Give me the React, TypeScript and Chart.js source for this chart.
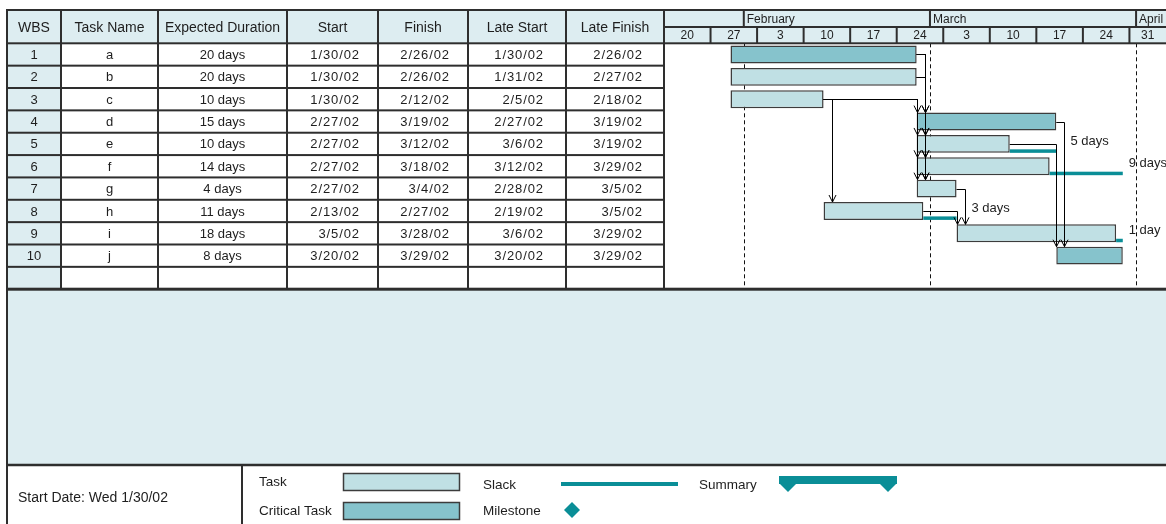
import React, { useEffect, useRef } from 'react';
import { Chart, registerables } from 'chart.js';

Chart.register(...registerables);

// ---------- data ----------
const WBS = ['1', '2', '3', '4', '5', '6', '7', '8', '9', '10'];
const TASK_NAMES = ['a', 'b', 'c', 'd', 'e', 'f', 'g', 'h', 'i', 'j'];
const DURATIONS = ['20 days', '20 days', '10 days', '15 days', '10 days', '14 days', '4 days', '11 days', '18 days', '8 days'];
const STARTS = ['1/30/02', '1/30/02', '1/30/02', '2/27/02', '2/27/02', '2/27/02', '2/27/02', '2/13/02', '3/5/02', '3/20/02'];
const FINISHES = ['2/26/02', '2/26/02', '2/12/02', '3/19/02', '3/12/02', '3/18/02', '3/4/02', '2/27/02', '3/28/02', '3/29/02'];
const LATE_STARTS = ['1/30/02', '1/31/02', '2/5/02', '2/27/02', '3/6/02', '3/12/02', '2/28/02', '2/19/02', '3/6/02', '3/20/02'];
const LATE_FINISHES = ['2/26/02', '2/27/02', '2/18/02', '3/19/02', '3/19/02', '3/29/02', '3/5/02', '3/5/02', '3/29/02', '3/29/02'];
const CRITICAL = [true, false, false, true, false, false, false, false, false, true];
const PREDECESSORS: string[][] = [[], [], [], ['a', 'b', 'c'], ['a', 'b', 'c'], ['a', 'b', 'c'], ['a', 'b', 'c'], ['c'], ['g', 'h'], ['d', 'e']];
const SLACK_END: (string | null)[] = [null, null, null, null, '3/19/02', '3/29/02', null, '3/4/02', '3/29/02', null];
const SLACK_LABELS: (string | null)[] = [null, null, null, null, '5 days', '9 days', null, '3 days', '1 day', null];
const HEADERS = ['WBS', 'Task Name', 'Expected Duration', 'Start', 'Finish', 'Late Start', 'Late Finish'];
const TIMELINE_START = '1/20/02';
const VIEW_DAYS = 75.5;
const WEEK_LABELS = ['20', '27', '3', '10', '17', '24', '3', '10', '17', '24', '31'];
const MONTH_LABELS = ['February', 'March', 'April'];
const MONTH_STARTS = ['2/1/02', '3/1/02', '4/1/02'];
const START_DATE_TEXT = 'Start Date: Wed 1/30/02';
const LEGEND_LABELS = ['Task', 'Critical Task', 'Slack', 'Milestone', 'Summary'];

// ---------- styling / layout ----------
const W = 1166;
const H = 524;
const COLS = [7, 61, 158, 287, 378, 468, 566, 664];
const ALIGN = ['center', 'center', 'center', 'right', 'right', 'right', 'right'];
const RIGHT_PAD = [0, 0, 0, 19, 19, 23, 22];
const TOP = 10;
const MONTH_ROW_BOTTOM = 27;
const AREA_TOP = 43.3;
const AREA_BOTTOM = 289.2;
const LEGEND_TOP = 465;
const DIVIDER_X = 242;
const FONT = "'Liberation Sans', Arial, sans-serif";
const HEAD_FILL = '#DDEDF1';
const TASK_FILL = '#C0E0E4';
const CRIT_FILL = '#86C3CC';
const TEAL = '#0A8E97';
const LINE = '#2E2E2E';
const TEXT = '#1E1E1E';
const BAR_BORDER = '#3C3C3C';

function parseDate(s: string) {
  const [m, d, y] = s.split('/').map(Number);
  return Date.UTC(2000 + y, m - 1, d);
}
const T0 = parseDate(TIMELINE_START);
function dayOf(s: string) {
  return (parseDate(s) - T0) / 86400000;
}

const BARS: ([number, number] | null)[] = [
  ...STARTS.map((s, i) => [dayOf(s), dayOf(FINISHES[i]) + 1] as [number, number]),
  null,
];
const BAR_COLORS = [...CRITICAL.map((c) => (c ? CRIT_FILL : TASK_FILL)), TASK_FILL];
const COLUMNS = [WBS, TASK_NAMES, DURATIONS, STARTS, FINISHES, LATE_STARTS, LATE_FINISHES];

function hLine(ctx: CanvasRenderingContext2D, x1: number, x2: number, y: number, w = 2) {
  ctx.fillRect(x1, y - w / 2, x2 - x1, w);
}
function vLine(ctx: CanvasRenderingContext2D, x: number, y1: number, y2: number, w = 2) {
  ctx.fillRect(x - w / 2, y1, w, y2 - y1);
}

const ganttPlugin = {
  id: 'ganttDecor',
  beforeDatasetsDraw(chart: any) {
    const ctx: CanvasRenderingContext2D = chart.ctx;
    const { x } = chart.scales;
    const area = chart.chartArea;
    ctx.save();
    ctx.fillStyle = '#ffffff';
    ctx.fillRect(0, 0, W, H);
    // fills
    ctx.fillStyle = HEAD_FILL;
    ctx.fillRect(COLS[0], TOP, W - COLS[0], area.top - TOP);
    ctx.fillRect(COLS[0], area.top, COLS[1] - COLS[0], area.bottom - area.top);
    ctx.fillRect(COLS[0], area.bottom, W - COLS[0], LEGEND_TOP - area.bottom);

    // dashed month lines
    ctx.strokeStyle = '#111';
    ctx.lineWidth = 1;
    ctx.setLineDash([4, 3]);
    MONTH_STARTS.forEach((m) => {
      const px = Math.round(x.getPixelForValue(dayOf(m))) + 0.5;
      ctx.beginPath();
      ctx.moveTo(px, area.top);
      ctx.lineTo(px, area.bottom);
      ctx.stroke();
    });
    ctx.setLineDash([]);
    ctx.restore();
  },
  afterDatasetsDraw(chart: any) {
    const ctx: CanvasRenderingContext2D = chart.ctx;
    const { x, y } = chart.scales;
    const meta = chart.getDatasetMeta(0);
    const barH = meta.data[0].height;
    ctx.save();

    // slack lines
    ctx.fillStyle = TEAL;
    SLACK_END.forEach((se, i) => {
      if (!se) return;
      const x1 = x.getPixelForValue(dayOf(FINISHES[i]) + 1);
      const x2 = x.getPixelForValue(dayOf(se) + 1);
      const bottom = y.getPixelForValue(i) + barH / 2;
      ctx.fillRect(x1, bottom - 3.5, x2 - x1, 3.5);
    });

    // connectors
    const verticals: { x: number; y1: number; y2: number }[] = [];
    ctx.strokeStyle = '#000';
    ctx.lineWidth = 1;
    PREDECESSORS.forEach((preds, i) => {
      preds.forEach((pn) => {
        const p = TASK_NAMES.indexOf(pn);
        const pEnd = x.getPixelForValue(dayOf(FINISHES[p]) + 1);
        const sStart = x.getPixelForValue(dayOf(STARTS[i]));
        const py = Math.round(y.getPixelForValue(p)) + 0.5;
        const top = y.getPixelForValue(i) - barH / 2;
        const vx = Math.round(pEnd >= sStart - 1 ? pEnd + 8 : sStart) + 0.5;
        ctx.beginPath();
        ctx.moveTo(pEnd, py);
        ctx.lineTo(vx, py);
        ctx.lineTo(vx, top);
        ctx.stroke();
        ctx.beginPath();
        ctx.moveTo(vx - 3.5, top - 7);
        ctx.lineTo(vx, top);
        ctx.lineTo(vx + 3.5, top - 7);
        ctx.stroke();
        verticals.push({ x: vx, y1: py, y2: top });
      });
    });

    // slack labels
    ctx.fillStyle = TEXT;
    ctx.font = `13px ${FONT}`;
    ctx.textAlign = 'left';
    ctx.textBaseline = 'middle';
    SLACK_LABELS.forEach((lab, i) => {
      if (!lab || !SLACK_END[i]) return;
      const se = x.getPixelForValue(dayOf(SLACK_END[i] as string) + 1);
      const ly = y.getPixelForValue(i) - 2.5;
      let lx = se;
      verticals.forEach((v) => {
        if (v.x >= se - 1 && v.x <= se + 20 && v.y1 <= ly + 4 && v.y2 >= ly) lx = Math.max(lx, v.x);
      });
      ctx.fillText(lab, lx + 6, ly);
    });
    ctx.restore();
  },
  afterDraw(chart: any) {
    const ctx: CanvasRenderingContext2D = chart.ctx;
    const { x, y } = chart.scales;
    const area = chart.chartArea;
    const rows = chart.data.labels.length;
    const rowH = (area.bottom - area.top) / rows;
    ctx.save();

    // ---- table text ----
    ctx.fillStyle = TEXT;
    ctx.textBaseline = 'middle';
    ctx.font = `14px ${FONT}`;
    ctx.textAlign = 'center';
    HEADERS.forEach((h, c) => {
      ctx.fillText(h, (COLS[c] + COLS[c + 1]) / 2, (TOP + area.top) / 2 + 1);
    });
    ctx.font = `13px ${FONT}`;
    COLUMNS.forEach((col, c) => {
      col.forEach((txt, i) => {
        const cy = y.getPixelForValue(i) + 1;
        if (ALIGN[c] === 'center') {
          (ctx as any).letterSpacing = '0px';
          ctx.textAlign = 'center';
          ctx.fillText(txt, (COLS[c] + COLS[c + 1]) / 2, cy);
        } else {
          (ctx as any).letterSpacing = '0.9px';
          ctx.textAlign = 'right';
          ctx.fillText(txt, COLS[c + 1] - RIGHT_PAD[c] + 1, cy);
        }
      });
    });
    (ctx as any).letterSpacing = '0px';

    // ---- timeline header text ----
    ctx.font = `12px ${FONT}`;
    ctx.textAlign = 'left';
    MONTH_LABELS.forEach((m, k) => {
      const px = x.getPixelForValue(dayOf(MONTH_STARTS[k]));
      ctx.fillText(m, px + 3, (TOP + MONTH_ROW_BOTTOM) / 2 + 1);
    });
    ctx.textAlign = 'center';
    WEEK_LABELS.forEach((w, k) => {
      const x1 = x.getPixelForValue(k * 7);
      const x2 = Math.min(area.right, x.getPixelForValue(k * 7 + 7));
      ctx.fillText(w, (x1 + x2) / 2, (MONTH_ROW_BOTTOM + area.top) / 2 + 1);
    });

    // ---- grid lines ----
    ctx.fillStyle = LINE;
    hLine(ctx, COLS[0] - 1, W, TOP);
    hLine(ctx, COLS[0] - 1, W, area.top);
    for (let i = 1; i < rows; i++) hLine(ctx, COLS[0], COLS[7], area.top + i * rowH);
    hLine(ctx, COLS[0] - 1, W, area.bottom, 3);
    hLine(ctx, COLS[0] - 1, W, LEGEND_TOP, 2.5);
    hLine(ctx, COLS[7], W, MONTH_ROW_BOTTOM);
    COLS.forEach((cx, c) => {
      if (c === 0) vLine(ctx, cx, TOP - 1, H);
      else vLine(ctx, cx, TOP, area.bottom);
    });
    MONTH_STARTS.forEach((m) => {
      const px = x.getPixelForValue(dayOf(m));
      vLine(ctx, px, TOP, MONTH_ROW_BOTTOM);
    });
    for (let k = 1; k < WEEK_LABELS.length; k++) {
      const px = x.getPixelForValue(k * 7);
      vLine(ctx, px, MONTH_ROW_BOTTOM, area.top);
    }
    vLine(ctx, DIVIDER_X, LEGEND_TOP, H);

    // ---- legend ----
    ctx.fillStyle = TEXT;
    ctx.textAlign = 'left';
    ctx.textBaseline = 'middle';
    ctx.font = `14px ${FONT}`;
    ctx.fillText(START_DATE_TEXT, 18, 498);
    ctx.font = `13.5px ${FONT}`;
    ctx.fillText(LEGEND_LABELS[0], 259, 482);
    ctx.fillText(LEGEND_LABELS[1], 259, 511);
    ctx.fillText(LEGEND_LABELS[2], 483, 485);
    ctx.fillText(LEGEND_LABELS[3], 483, 511);
    ctx.fillText(LEGEND_LABELS[4], 699, 485);

    ctx.strokeStyle = BAR_BORDER;
    ctx.lineWidth = 1.5;
    ctx.fillStyle = TASK_FILL;
    ctx.fillRect(343, 473, 117, 18);
    ctx.strokeRect(343.5, 473.5, 116, 17);
    ctx.fillStyle = CRIT_FILL;
    ctx.fillRect(343, 502, 117, 18);
    ctx.strokeRect(343.5, 502.5, 116, 17);

    ctx.fillStyle = TEAL;
    ctx.fillRect(561, 482, 117, 4);
    // milestone diamond
    ctx.beginPath();
    ctx.moveTo(572, 502);
    ctx.lineTo(580, 510);
    ctx.lineTo(572, 518);
    ctx.lineTo(564, 510);
    ctx.closePath();
    ctx.fill();
    // summary
    ctx.fillRect(779, 476, 118, 8);
    ctx.beginPath();
    ctx.moveTo(779, 483);
    ctx.lineTo(797, 483);
    ctx.lineTo(788, 492);
    ctx.closePath();
    ctx.fill();
    ctx.beginPath();
    ctx.moveTo(879, 483);
    ctx.lineTo(897, 483);
    ctx.lineTo(888, 492);
    ctx.closePath();
    ctx.fill();

    ctx.restore();
  },
};

export default function App() {
  const ref = useRef<HTMLCanvasElement>(null);
  useEffect(() => {
    document.body.style.margin = '0';
    const chart = new Chart(ref.current as HTMLCanvasElement, {
      type: 'bar',
      data: {
        labels: [...WBS, ''],
        datasets: [
          {
            label: 'Tasks',
            data: BARS as any,
            backgroundColor: BAR_COLORS,
            borderColor: BAR_BORDER,
            borderWidth: 1.5,
            borderSkipped: false,
            barPercentage: 0.8,
            categoryPercentage: 1,
          },
        ],
      },
      options: {
        indexAxis: 'y',
        responsive: false,
        animation: false,
        devicePixelRatio: 1,
        layout: { padding: { left: COLS[7], top: AREA_TOP, right: 0, bottom: H - AREA_BOTTOM } },
        scales: {
          x: { type: 'linear', min: 0, max: VIEW_DAYS, display: false },
          y: { type: 'category', display: false, offset: true },
        },
        plugins: { legend: { display: false }, tooltip: { enabled: false } },
      },
      plugins: [ganttPlugin as any],
    });
    return () => chart.destroy();
  }, []);
  return <canvas ref={ref} width={W} height={H} style={{ display: 'block', width: W, height: H }} />;
}
